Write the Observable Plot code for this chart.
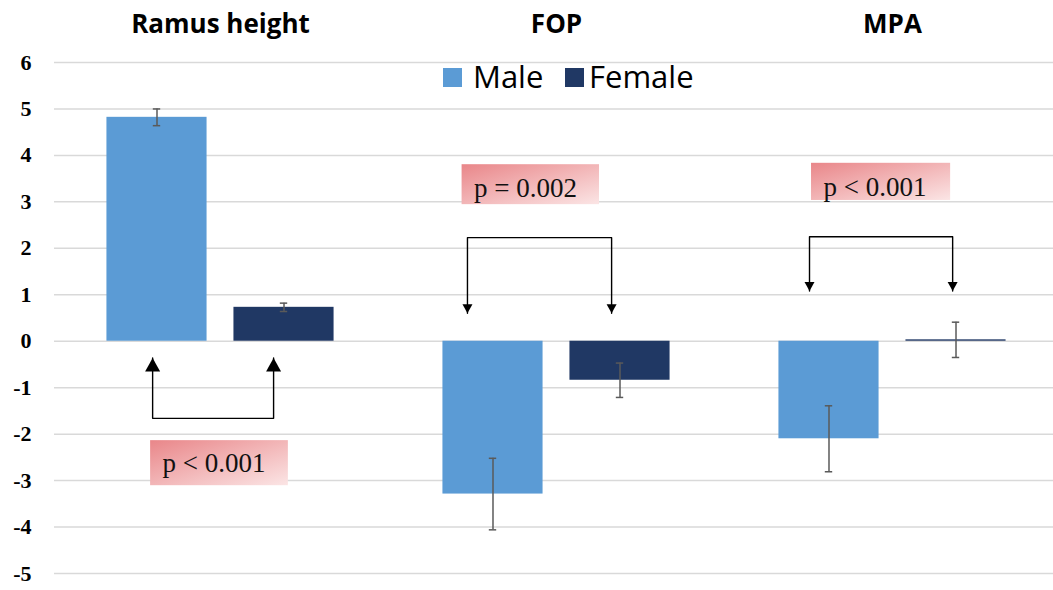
<!DOCTYPE html>
<html><head><meta charset="utf-8">
<script src="https://cdn.jsdelivr.net/npm/d3@7"></script>
<script src="https://cdn.jsdelivr.net/npm/@observablehq/plot@0.6"></script>
<style>
body{margin:0;background:#fff;}
#wrap{position:relative;width:1053px;height:590px;overflow:hidden;}
.lg{position:absolute;font-family:"Open Sans";font-size:31px;line-height:1;color:#000;white-space:nowrap;}
.sw{position:absolute;width:19px;height:19px;}
</style></head><body><div id="wrap"></div>
<script>
// ---- data ----
const categories = ["Ramus height", "FOP", "MPA"];
const series = ["Male", "Female"];
const seriesColors = ["#5b9bd5", "#203864"];
const maleMean = [4.82, -3.29, -2.10];
const femaleMean = [0.73, -0.84, 0.03];
const maleErr = [0.18, 0.77, 0.71];
const femaleErr = [0.09, 0.37, 0.38];
const yTicks = [-5, -4, -3, -2, -1, 0, 1, 2, 3, 4, 5, 6];
const pLabels = ["p < 0.001", "p = 0.002", "p < 0.001"];
// annotation anchors, in data units (x: group index scale, y: value scale)
const boxX1 = [0.292, 1.219, 2.259];
const boxX2 = [0.702, 1.628, 2.673];
const boxYTop = [-2.14, 3.80, 3.83];
const boxYBottom = [-3.11, 2.94, 3.03];
const labelBaseY = [-2.82, 3.10, 3.12];
const arrowXLeft = [0.298, 1.235, 2.253];
const arrowXRight = [0.658, 1.664, 2.679];
const bracketY = [-1.66, 2.23, 2.25];
const arrowTipY = [-0.36, 0.60, 1.08];
const arrowDir = ["up", "down", "down"];

// ---- tables ----
const bars = [];
categories.forEach((c, i) => {
  bars.push({cat: c, sex: "Male", i, value: maleMean[i], err: maleErr[i]});
  bars.push({cat: c, sex: "Female", i, value: femaleMean[i], err: femaleErr[i]});
});
const OFF = 0.189, HALF = 0.149, CAP = 0.011;
const cx = d => d.i + 0.5 + (d.sex === "Male" ? -OFF : OFF);

const notes = categories.map((c, i) => ({
  i, label: pLabels[i], bx1: boxX1[i], bx2: boxX2[i], byt: boxYTop[i], byb: boxYBottom[i],
  ty: labelBaseY[i]
}));
const bracketPts = [];
const heads = [];
categories.forEach((c, i) => {
  bracketPts.push({i, x: arrowXLeft[i], y: arrowTipY[i]});
  bracketPts.push({i, x: arrowXLeft[i], y: bracketY[i]});
  bracketPts.push({i, x: arrowXRight[i], y: bracketY[i]});
  bracketPts.push({i, x: arrowXRight[i], y: arrowTipY[i]});
  heads.push({i, x: arrowXLeft[i], y: arrowTipY[i], dir: arrowDir[i]});
  heads.push({i, x: arrowXRight[i], y: arrowTipY[i], dir: arrowDir[i]});
});

// triangle symbols with the tip at the origin
const triUp = {draw(ctx, size) { const s = Math.sqrt(size / Math.PI); ctx.moveTo(0, 0); ctx.lineTo(s, 1.8 * s); ctx.lineTo(-s, 1.8 * s); ctx.closePath(); }};
const triDown = {draw(ctx, size) { const s = Math.sqrt(size / Math.PI); ctx.moveTo(0, 0); ctx.lineTo(s, -1.8 * s); ctx.lineTo(-s, -1.8 * s); ctx.closePath(); }};

const chart = Plot.plot({
  width: 1053, height: 590,
  marginTop: 62, marginBottom: 17, marginLeft: 54, marginRight: 0,
  x: {domain: [0, 3], range: [52, 1060], axis: null},
  y: {domain: [-5, 6], axis: null},
  color: {domain: series, range: seriesColors},
  marks: [
    Plot.ruleY(yTicks, {stroke: "#d9d9d9", strokeWidth: 1.5}),
    Plot.text(yTicks, {y: d => d, frameAnchor: "left", dx: -23, textAnchor: "end", text: d => String(d),
      fontFamily: "Liberation Serif", fontWeight: "bold", fontSize: 22, fill: "#000"}),
    Plot.text(categories, {x: (d, i) => i + 0.5, frameAnchor: "top", dy: -30, lineAnchor: "bottom",
      text: d => d, fontFamily: "Open Sans", fontWeight: "bold", fontSize: 26, fill: "#000"}),
    Plot.rectY(bars, {x1: d => cx(d) - HALF, x2: d => cx(d) + HALF, y1: 0, y2: "value", fill: "sex"}),
    Plot.ruleX(bars, {x: cx, y1: d => d.value - d.err, y2: d => d.value + d.err, stroke: "#5a5a5a", strokeWidth: 1.5}),
    Plot.ruleY(bars, {x1: d => cx(d) - CAP, x2: d => cx(d) + CAP, y: d => d.value + d.err, stroke: "#5a5a5a", strokeWidth: 1.5}),
    Plot.ruleY(bars, {x1: d => cx(d) - CAP, x2: d => cx(d) + CAP, y: d => d.value - d.err, stroke: "#5a5a5a", strokeWidth: 1.5}),
    Plot.rect(notes, {x1: "bx1", x2: "bx2", y1: "byb", y2: "byt", fill: "url(#pgrad)"}),
    Plot.text(notes, {x: "bx1", y: "ty", text: "label", dx: 12, textAnchor: "start", lineAnchor: "bottom",
      fontFamily: "Liberation Serif", fontSize: 27, fill: "#111"}),
    Plot.line(bracketPts, {x: "x", y: "y", z: "i", stroke: "#000", strokeWidth: 1.4}),
    Plot.dot(heads.filter(d => d.dir === "up"), {x: "x", y: "y", symbol: triUp, r: 7.5, fill: "#000", stroke: "none"}),
    Plot.dot(heads.filter(d => d.dir === "down"), {x: "x", y: "y", symbol: triDown, r: 5, fill: "#000", stroke: "none"})
  ]
});

const defs = d3.select(chart).insert("defs", ":first-child");
const g = defs.append("linearGradient").attr("id", "pgrad")
  .attr("x1", 0).attr("y1", 0).attr("x2", 1).attr("y2", 1);
g.append("stop").attr("offset", "0%").attr("stop-color", "#e98689");
g.append("stop").attr("offset", "100%").attr("stop-color", "#fbe5e5");

const wrap = document.getElementById("wrap");
wrap.appendChild(chart);

// legend
const legendItems = [
  {label: series[0], color: seriesColors[0], sw: 443, tx: 473},
  {label: series[1], color: seriesColors[1], sw: 565, tx: 589}
];
legendItems.forEach(it => {
  const s = document.createElement("div");
  s.className = "sw"; s.style.left = it.sw + "px"; s.style.top = "68px"; s.style.background = it.color;
  wrap.appendChild(s);
  const t = document.createElement("div");
  t.className = "lg"; t.style.left = it.tx + "px"; t.style.top = "61px"; t.textContent = it.label;
  wrap.appendChild(t);
});
</script></body></html>
